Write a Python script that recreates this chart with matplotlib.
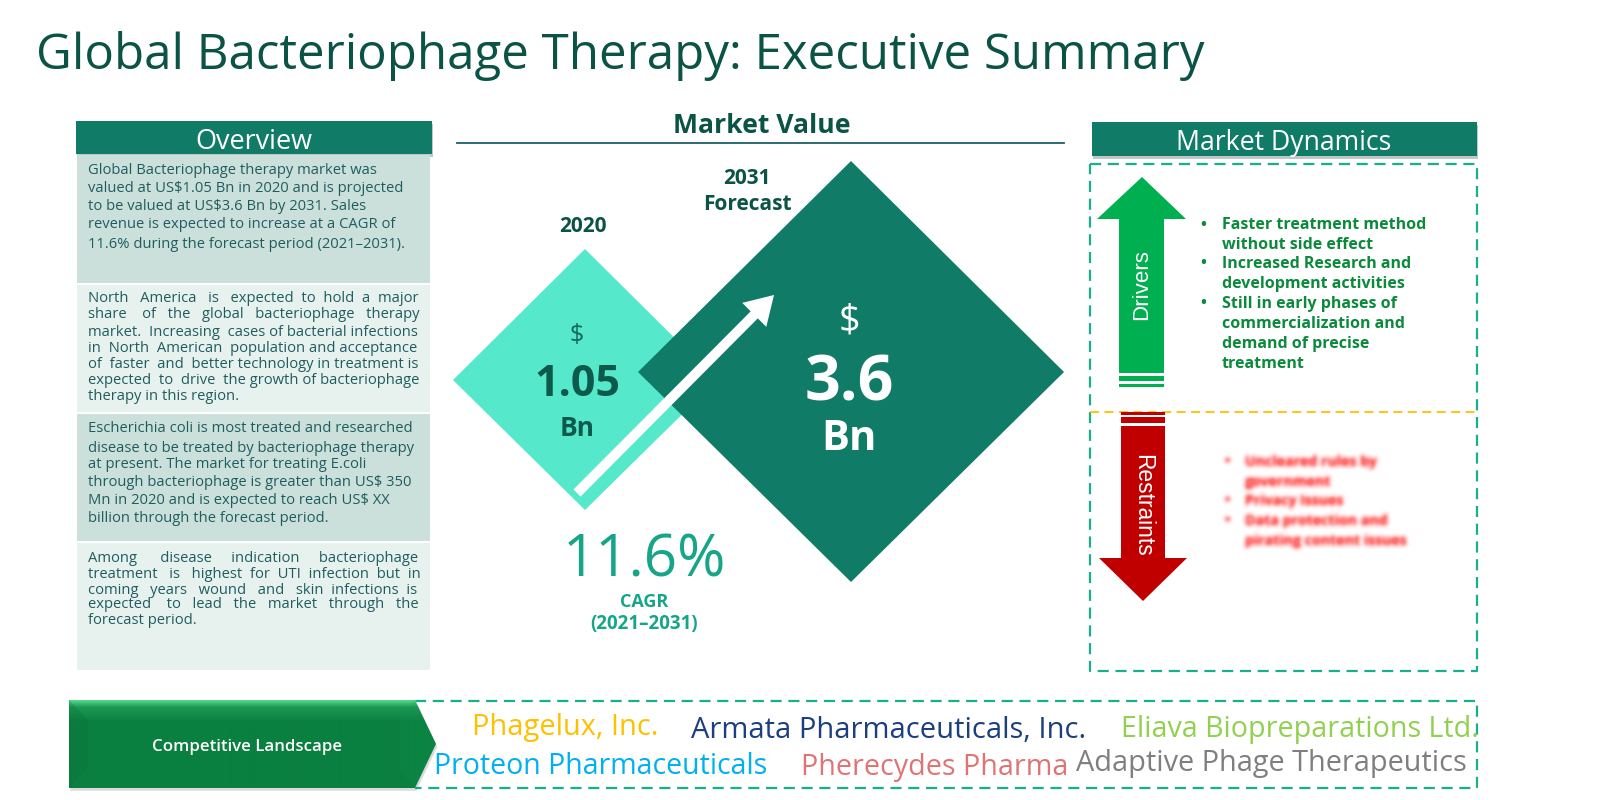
# plot.py - executive summary slide
import numpy as np
import matplotlib
matplotlib.use("Agg")
import matplotlib.pyplot as plt
import matplotlib.patheffects as pe
from matplotlib.colors import to_rgb
from matplotlib.patches import Polygon, Rectangle

TITLE = "Global Bacteriophage Therapy: Executive Summary"

overview_1 = ["Global Bacteriophage therapy market was",
              "valued at US$1.05 Bn in 2020 and is projected",
              "to be valued at US$3.6 Bn by 2031. Sales",
              "revenue is expected to increase at a CAGR of",
              "11.6% during the forecast period (2021–2031)."]
overview_2 = ["North America is expected to hold a major",
              "share of the global bacteriophage therapy",
              "market. Increasing cases of bacterial infections",
              "in North American population and acceptance",
              "of faster and better technology in treatment is",
              "expected to drive the growth of bacteriophage",
              "therapy in this region."]
overview_3 = ["Escherichia coli is most treated and researched",
              "disease to be treated by bacteriophage therapy",
              "at present. The market for treating E.coli",
              "through bacteriophage is greater than US$ 350",
              "Mn in 2020 and is expected to reach US$ XX",
              "billion through the forecast period."]
overview_4 = ["Among disease indication bacteriophage",
              "treatment is highest for UTI infection but in",
              "coming years wound and skin infections is",
              "expected to lead the market through the",
              "forecast period."]

value_2020 = "1.05"
value_2031 = "3.6"
cagr = "11.6%"

drivers = ["Faster treatment method", "without side effect",
           "Increased Research and", "development activities",
           "Still in early phases of", "commercialization and",
           "demand of precise", "treatment"]
driver_bullets = [0, 2, 4]
restraints = ["Uncleared rules by", "government", "Privacy Issues",
              "Data protection and", "pirating content issues"]
restraint_bullets = [0, 2, 3]

companies = ["Phagelux, Inc.", "Armata Pharmaceuticals, Inc.",
             "Eliava Biopreparations Ltd.", "Proteon Pharmaceuticals",
             "Pherecydes Pharma", "Adaptive Phage Therapeutics"]
company_colors = ["#FFC000", "#1B3F80", "#92D050", "#00B0F0", "#E07474", "#7F7F7F"]
company_spans = [(472, 658, 727), (691, 1084, 730), (1121, 1477, 729),
                 (434, 767, 767), (801, 1067, 767), (1076, 1465, 764)]

DARK = "#107C67"
DEEP = "#0B5345"
BODY = "#1F5C60"
TEAL = "#17A589"
DASH = "#17B08C"
BLURRED = "#FF6F6F"
SANS = "Open Sans"

fig = plt.figure(figsize=(16, 8), dpi=100, facecolor="white")
ax = fig.add_axes([0, 0, 1, 1])
ax.set_xlim(0, 1600)
ax.set_ylim(800, 0)
ax.axis("off")
renderer = fig.canvas.get_renderer()


def put(x, y, s, size, color, ha="center", weight="normal", **kw):
    kw.setdefault("family", SANS)
    return ax.text(x, y, s, fontsize=size, color=color, ha=ha, va="center",
                   fontweight=weight, **kw)


def fit(t, width):
    # scale the font so the text spans the given pixel length
    box = t.get_window_extent(renderer)
    t.set_fontsize(t.get_fontsize() * width / max(box.width, box.height))
    return t


def paragraph(lines, ys, justify=True, size=10.6):
    for i, (line, y) in enumerate(zip(lines, ys)):
        t = put(88, y + 2, line, size, BODY, ha="left")
        if justify and i < len(lines) - 1:
            # pad the gaps with spaces until the line fills the panel
            words = line.split(" ")
            gaps = [" "] * (len(words) - 1)
            k = 0
            while gaps and t.get_window_extent(renderer).width < 329:
                gaps[k % len(gaps)] += " "
                k += 1
                s = words[0]
                for g, w in zip(gaps, words[1:]):
                    s += g + w
                t.set_text(s)


def dashed(xs, ys, color=DASH, lw=1.6):
    ax.plot(xs, ys, color=color, lw=lw, linestyle=(0, (5, 3)), zorder=2)


def soften(img, dpi):
    # the restraint list is blurred out in the reference
    pad = 8
    alpha = np.pad(img[..., 3], pad)
    kernel = np.exp(-np.arange(-6, 7) ** 2 / (2 * 2.2 ** 2))
    kernel /= kernel.sum()
    alpha = np.apply_along_axis(lambda c: np.convolve(c, kernel, "same"), 0, alpha)
    alpha = np.apply_along_axis(lambda c: np.convolve(c, kernel, "same"), 1, alpha)
    out = np.zeros(alpha.shape + (4,))
    out[..., :3] = to_rgb(BLURRED)
    out[..., 3] = np.clip(alpha * 1.9, 0, 1)
    return out, -pad, -pad


# title
fit(put(36, 56, TITLE, 36, DEEP, ha="left"), 1169)

# overview column
shadow = [pe.SimplePatchShadow(offset=(1, -2), alpha=0.25), pe.Normal()]
ax.add_patch(Rectangle((76, 121), 356, 33, fc=DARK, ec="none", path_effects=shadow))
fit(put(254, 142, "Overview", 18, "white"), 117)
panels = [(155, 128, "#CBE0DA"), (285, 127, "#E7F1EE"), (414, 127, "#CBE0DA"), (543, 127, "#E7F1EE")]
for top, h, c in panels:
    ax.add_patch(Rectangle((77, top), 353, h, fc=c, ec="none"))
paragraph(overview_1, [169, 187, 205, 223, 242], justify=False)
paragraph(overview_2, [297, 313, 330, 346, 362, 378, 394])
paragraph(overview_3, [427, 446, 463, 481, 499, 517], justify=False)
paragraph(overview_4, [557, 572, 588, 603, 618])

# market value
fit(put(762, 126, "Market Value", 16, DEEP, weight="bold"), 177)
ax.plot([457, 1064], [143, 143], color="#1F5F6B", lw=1.3)

ax.add_patch(Polygon([(585, 249), (717, 380), (585, 510), (453, 380)], fc="#56E8CB", ec="none", zorder=2))
ax.add_patch(Polygon([(851, 161), (1064, 372), (851, 582), (638, 372)], fc=DARK, ec="none", zorder=3))
ax.arrow(577, 493, 197, -198, width=10, head_width=34, head_length=28,
         length_includes_head=True, fc="white", ec="none", zorder=4)

put(583, 227, "2020", 15, DEEP, weight="bold")
put(747, 178, "2031", 15, DEEP, weight="bold", zorder=5)
put(747, 204, "Forecast", 15, DEEP, weight="bold", zorder=5)
put(577, 335, "$", 18, "#15695B", zorder=5)
put(577, 384, value_2020, 31, "#0D5A4C", weight="bold", zorder=5)
put(577, 428, "Bn", 19, "#0D5A4C", weight="bold", zorder=5)
put(849, 322, "$", 27, "white", zorder=5)
put(849, 384, value_2031, 45, "white", weight="bold", zorder=5)
put(849, 439, "Bn", 30, "white", weight="bold", zorder=5)
put(644, 561, cagr, 42, TEAL, zorder=5)
put(644, 602, "CAGR", 13, TEAL, weight="bold")
put(644, 624, "(2021–2031)", 13.5, TEAL, weight="bold")

# market dynamics
ax.add_patch(Rectangle((1092, 122), 385, 34, fc=DARK, ec="none", path_effects=shadow))
fit(put(1284, 143, "Market Dynamics", 18, "white"), 216)
dashed([1090, 1477, 1477, 1090, 1090], [164, 164, 671, 671, 164])
dashed([1090, 1477], [412, 412], color="#FFC000", lw=1.3)

GREEN = "#00B050"
ax.add_patch(Polygon([(1142, 177), (1186, 219), (1164, 219), (1164, 373), (1119, 373),
                      (1119, 219), (1097, 219)], fc=GREEN, ec="none", zorder=3))
ax.add_patch(Rectangle((1119, 376), 45, 5, fc=GREEN, ec="none", zorder=3))
ax.add_patch(Rectangle((1119, 384), 45, 2.5, fc=GREEN, ec="none", zorder=3))
fit(put(1142, 285, "Drivers", 15, "white", rotation=90, family="Liberation Sans", zorder=4), 71)

RED = "#C00000"
ax.add_patch(Polygon([(1121, 426), (1165, 426), (1165, 558), (1187, 558), (1143, 601),
                      (1099, 558), (1121, 558)], fc=RED, ec="none", zorder=3))
ax.add_patch(Rectangle((1121, 412), 44, 3, fc=RED, ec="none", zorder=3))
ax.add_patch(Rectangle((1121, 417), 44, 6, fc=RED, ec="none", zorder=3))
fit(put(1143, 505, "Restraints", 15, "white", rotation=270, family="Liberation Sans", zorder=4), 103)

driver_ys = [225, 245, 264, 284, 304, 324, 344, 364]
for i, (line, y) in enumerate(zip(drivers, driver_ys)):
    put(1222, y, line, 11.5, "#0B8A3C", ha="left", weight="bold")
    if i in driver_bullets:
        put(1203, y, "•", 15, "#0B8A3C")

restraint_ys = [462, 482, 501, 521, 541]
for i, (line, y) in enumerate(zip(restraints, restraint_ys)):
    put(1245, y, line, 10.2, BLURRED, ha="left", weight="bold").set_agg_filter(soften)
    if i in restraint_bullets:
        put(1227, y, "•", 14, BLURRED).set_agg_filter(soften)

# competitive landscape
dashed([415, 1477, 1477, 415], [701, 701, 788, 788])
chevron_xy = [(69, 700), (415, 700), (436, 744), (415, 788), (69, 788)]
ax.add_patch(Polygon(chevron_xy, fc="white", ec="none", zorder=3,
                     path_effects=[pe.SimplePatchShadow(offset=(1, -2), alpha=0.2), pe.Normal()]))
chevron = Polygon(chevron_xy, fc="none", ec="none", zorder=3)
ax.add_patch(chevron)
grad = np.concatenate([np.linspace(1, 0.25, 8), np.linspace(0.25, 0, 14), np.zeros(66)]).reshape(-1, 1)
low = np.array([0x0A, 0x80, 0x40]) / 255
high = np.array([0x52, 0xD8, 0x8A]) / 255
rgb = low + grad[..., None] * (high - low)
img = ax.imshow(rgb, extent=(69, 436, 788, 700), aspect="auto", zorder=3, interpolation="bilinear")
img.set_clip_path(chevron)
ax.set_xlim(0, 1600)
ax.set_ylim(800, 0)
# bevel on the arrow ends
ax.add_patch(Polygon([(69, 700), (88, 720), (88, 768), (69, 788)], fc="#0B6E38", ec="none", zorder=4, alpha=0.25))
ax.add_patch(Polygon([(415, 700), (436, 744), (415, 788), (400, 770), (400, 718)],
                     fc="#149455", ec="none", zorder=4, alpha=0.18))
fit(put(247, 747, "Competitive Landscape", 11, "white", weight="semibold", zorder=5), 189)

for name, c, (x0, x1, y) in zip(companies, company_colors, company_spans):
    fit(put(x0, y, name, 20, c, ha="left", zorder=5), x1 - x0)

fig.savefig("out.png", dpi=100)
